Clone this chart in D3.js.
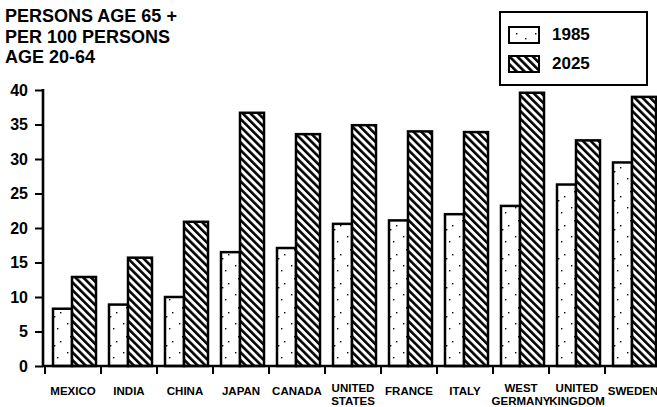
<!DOCTYPE html>
<html>
<head>
<meta charset="utf-8">
<script src="https://cdn.jsdelivr.net/npm/d3@7"></script>
<style>
  body { margin: 0; background: #fff; }
  svg { display: block; font-family: "Liberation Sans", Arial, sans-serif; font-weight: bold; }
</style>
</head>
<body>
<div id="chart"></div>
<script>
// data
var countries = ["MEXICO", "INDIA", "CHINA", "JAPAN", "CANADA", "UNITED STATES",
  "FRANCE", "ITALY", "WEST GERMANY", "UNITED KINGDOM", "SWEDEN"];
var labelLines = [["MEXICO"], ["INDIA"], ["CHINA"], ["JAPAN"], ["CANADA"], ["UNITED", "STATES"],
  ["FRANCE"], ["ITALY"], ["WEST", "GERMANY"], ["UNITED", "KINGDOM"], ["SWEDEN"]];
var values1985 = [8.3, 8.9, 10.0, 16.5, 17.1, 20.6, 21.1, 22.0, 23.2, 26.3, 29.5];
var values2025 = [12.9, 15.7, 20.9, 36.7, 33.6, 34.9, 34.0, 33.9, 39.6, 32.7, 39.0];
var yTicks = [0, 5, 10, 15, 20, 25, 30, 35, 40];
var titleLines = ["PERSONS AGE 65 +", "PER 100 PERSONS", "AGE 20-64"];
var seriesNames = ["1985", "2025"];

var width = 657, height = 407;

var svg = d3.select("#chart").append("svg")
  .attr("width", width)
  .attr("height", height);

// patterns: sparse stipple for 1985, diagonal hatch for 2025
var defs = svg.append("defs");
var stipple = defs.append("pattern")
  .attr("id", "stipple")
  .attr("patternUnits", "userSpaceOnUse")
  .attr("width", 19).attr("height", 29);
stipple.append("rect").attr("width", 19).attr("height", 29).attr("fill", "#fff");
[[3, 4], [12, 9], [6, 17], [15, 22], [9, 26]].forEach(function (p) {
  stipple.append("rect")
    .attr("x", p[0]).attr("y", p[1])
    .attr("width", 1.4).attr("height", 1.4)
    .attr("fill", "#000");
});

var hatch = defs.append("pattern")
  .attr("id", "hatch")
  .attr("patternUnits", "userSpaceOnUse")
  .attr("width", 5.5).attr("height", 5.5)
  .attr("patternTransform", "rotate(-45)");
hatch.append("rect").attr("width", 5.5).attr("height", 5.5).attr("fill", "#fff");
hatch.append("rect").attr("x", 0).attr("y", 0).attr("width", 2.6).attr("height", 5.5).attr("fill", "#000");

// scales
var xScale = d3.scaleBand()
  .domain(countries)
  .range([45, 661])
  .paddingInner(0)
  .paddingOuter(0);

var yScale = d3.scaleLinear()
  .domain([0, 40])
  .range([366, 90]);

// title
svg.append("text")
  .attr("x", 5)
  .attr("y", 22)
  .style("font-size", "18px")
  .selectAll("tspan")
  .data(titleLines)
  .enter().append("tspan")
  .attr("x", 5)
  .attr("dy", function (d, i) { return i === 0 ? 0 : 20.5; })
  .text(function (d) { return d; });

// bars
var groups = svg.selectAll("g.country")
  .data(countries)
  .enter().append("g")
  .attr("class", "country")
  .attr("transform", function (d) { return "translate(" + xScale(d) + ",0)"; });

groups.append("rect")
  .attr("x", 8)
  .attr("width", 19)
  .attr("y", function (d, i) { return yScale(values1985[i]); })
  .attr("height", function (d, i) { return yScale(0) - yScale(values1985[i]); })
  .attr("fill", "url(#stipple)")
  .attr("stroke", "#000")
  .attr("stroke-width", 2.5);

groups.append("rect")
  .attr("x", 27)
  .attr("width", 24)
  .attr("y", function (d, i) { return yScale(values2025[i]); })
  .attr("height", function (d, i) { return yScale(0) - yScale(values2025[i]); })
  .attr("fill", "url(#hatch)")
  .attr("stroke", "#000")
  .attr("stroke-width", 2.5);

// y axis
var yAxis = d3.axisLeft(yScale)
  .tickValues(yTicks)
  .tickSize(8)
  .tickPadding(7)
  .tickFormat(d3.format("d"));

var yAxisG = svg.append("g")
  .attr("transform", "translate(43,0)")
  .call(yAxis);
yAxisG.select(".domain").remove();
yAxisG.selectAll("line").attr("stroke", "#000").attr("stroke-width", 2);
yAxisG.selectAll("text")
  .attr("fill", "#000")
  .style("font-size", "16px")
  .style("font-family", "'Liberation Sans', Arial, sans-serif")
  .style("font-weight", "bold");
yAxisG.append("line")
  .attr("x1", 0).attr("x2", 0)
  .attr("y1", yScale(40) - 1).attr("y2", yScale(0))
  .attr("stroke", "#000").attr("stroke-width", 2.6);

// x axis baseline and category ticks
svg.append("line")
  .attr("x1", 42).attr("x2", width)
  .attr("y1", yScale(0)).attr("y2", yScale(0))
  .attr("stroke", "#000").attr("stroke-width", 2.6);

svg.selectAll("line.xtick")
  .data(countries)
  .enter().append("line")
  .attr("class", "xtick")
  .attr("x1", function (d) { return xScale(d); })
  .attr("x2", function (d) { return xScale(d); })
  .attr("y1", yScale(0))
  .attr("y2", yScale(0) + 8)
  .attr("stroke", "#000").attr("stroke-width", 2);

// x labels
var xLabels = svg.selectAll("text.xlabel")
  .data(countries)
  .enter().append("text")
  .attr("class", "xlabel")
  .attr("text-anchor", "middle")
  .style("font-size", "11.5px")
  .attr("transform", function (d, i) {
    var yBase = labelLines[i].length > 1 ? 392 : 395;
    return "translate(" + (xScale(d) + xScale.bandwidth() / 2) + "," + yBase + ")";
  });

xLabels.selectAll("tspan")
  .data(function (d, i) { return labelLines[i]; })
  .enter().append("tspan")
  .attr("x", 0)
  .attr("dy", function (d, i) { return i === 0 ? 0 : 12.5; })
  .text(function (d) { return d; });

// legend
var legend = svg.append("g");
legend.append("rect")
  .attr("x", 500).attr("y", 12)
  .attr("width", 147).attr("height", 73)
  .attr("fill", "#fff")
  .attr("stroke", "#000").attr("stroke-width", 2);

var fills = ["url(#stipple)", "url(#hatch)"];
seriesNames.forEach(function (name, i) {
  var top = i === 0 ? 27 : 56;
  legend.append("rect")
    .attr("x", 509).attr("y", top)
    .attr("width", 30).attr("height", 16)
    .attr("fill", fills[i])
    .attr("stroke", "#000").attr("stroke-width", 2);
  legend.append("text")
    .attr("x", 552).attr("y", top + 13)
    .style("font-size", "17px")
    .text(name);
});
</script>
</body>
</html>
